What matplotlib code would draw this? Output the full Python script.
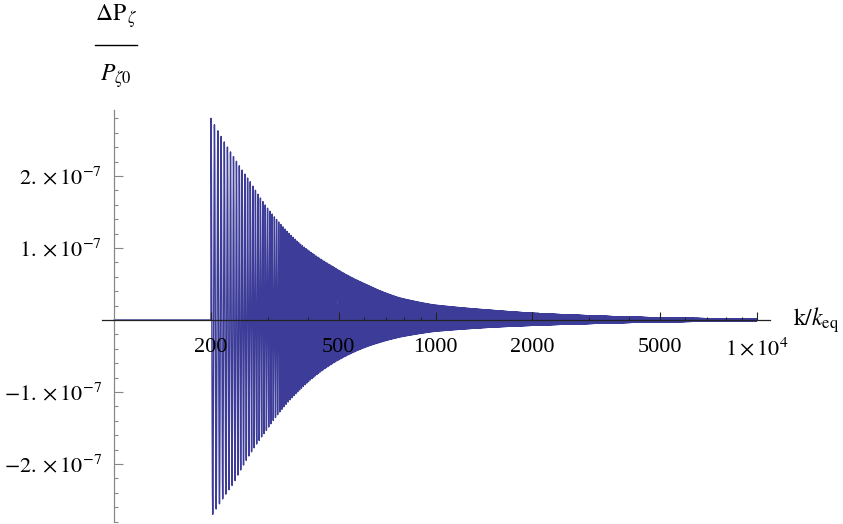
import numpy as np
import matplotlib
matplotlib.use("Agg")
import matplotlib.pyplot as plt
from matplotlib.ticker import FixedLocator, FixedFormatter
from matplotlib.lines import Line2D

plt.rcParams['agg.path.chunksize'] = 10000
plt.rcParams['mathtext.fontset'] = 'stix'
plt.rcParams['font.family'] = ['Liberation Serif', 'DejaVu Serif']

# ---- data ----
k_start = 200.0          # oscillation onset (k/k_eq)
k_min, k_max = 100.0, 10000.0
period_k = 5.0           # oscillation period in k/k_eq
env_k = [200, 235, 265, 298, 378, 480, 612, 770, 986, 1500, 2000, 3000, 5000, 10000]
env_upper = [2.80, 2.27, 1.92, 1.57, 1.06, 0.74, 0.49, 0.31, 0.21, 0.135, 0.095, 0.06, 0.03, 0.012]
low_k = [200, 235, 298, 378, 480, 612, 770, 986, 1500, 2000, 3000, 5000, 10000]
env_lower = [2.74, 2.27, 1.53, 0.97, 0.60, 0.37, 0.24, 0.16, 0.10, 0.075, 0.05, 0.026, 0.011]
scale = 1e-7

x_major = [200, 500, 1000, 2000, 5000, 10000]
x_major_labels = ['200', '500', '1000', '2000', '5000', r'$1\times10^{4}$']
x_minor = [300, 400, 600, 700, 800, 900, 3000, 4000, 6000, 7000, 8000, 9000]
y_major = [-2e-7, -1e-7, 1e-7, 2e-7]
y_major_labels = [r'$-2.\times10^{-7}$', r'$-1.\times10^{-7}$', r'$1.\times10^{-7}$', r'$2.\times10^{-7}$']
y_minor = [v * 1e-8 for v in range(-28, 30, 2) if v % 10 != 0]

# ---- build curve (log-log envelope through the read points) ----
k = np.arange(k_min, k_max, 0.04)
lk = np.log10(k)
up = 10 ** np.interp(lk, np.log10(env_k), np.log10(env_upper)) * scale
lo = 10 ** np.interp(lk, np.log10(low_k), np.log10(env_lower)) * scale
c = np.cos(2 * np.pi * (k - k_start) / period_k)
y = np.where(c >= 0, up * c, lo * c)
y[k < k_start] = 0.0

W, H = 843, 524
fig = plt.figure(figsize=(W / 100, H / 100), dpi=100)
ax_left, ax_right, ax_top, ax_bot = 102, 770, 110, 522
ax = fig.add_axes([ax_left / W, 1 - ax_bot / H, (ax_right - ax_left) / W, (ax_bot - ax_top) / H])
ax.set_axisbelow(False)

col = '#3d3d99'
ax.plot(k, y, color=col, lw=1.0)

ax.set_xscale('log')
px_dec = 321.2
ax.set_xlim(10 ** (np.log10(200) + (ax_left - 211) / px_dec), 10 ** (np.log10(200) + (ax_right - 211) / px_dec))
ppy = 72 / 1e-7
ax.set_ylim(-(ax_bot - 320) / ppy, (320 - ax_top) / ppy)

for s in ['top', 'right']:
    ax.spines[s].set_visible(False)
ax.spines['left'].set_position(('data', k_min))
ax.spines['bottom'].set_position(('data', 0))
ax.spines['left'].set_color('#888888')
ax.spines['bottom'].set_color('#222222')
ax.spines['left'].set_linewidth(0.9)
ax.spines['bottom'].set_linewidth(0.9)

ax.xaxis.set_major_locator(FixedLocator(x_major))
ax.xaxis.set_major_formatter(FixedFormatter(x_major_labels))
ax.xaxis.set_minor_locator(FixedLocator(x_minor))
ax.xaxis.set_minor_formatter(FixedFormatter([''] * len(x_minor)))
ax.yaxis.set_major_locator(FixedLocator(y_major))
ax.yaxis.set_major_formatter(FixedFormatter(y_major_labels))
ax.yaxis.set_minor_locator(FixedLocator(y_minor))

ax.tick_params(axis='x', which='major', direction='in', length=5.5, width=0.8, color='#222222', pad=13, labelsize=16)
ax.tick_params(axis='x', which='minor', direction='in', length=2.5, width=0.8, color='#222222')
ax.tick_params(axis='y', which='major', direction='in', length=6.5, width=0.8, color='#888888', pad=9, labelsize=16)
ax.tick_params(axis='y', which='minor', direction='in', length=3.2, width=0.8, color='#888888')

# axis labels
fig.text(793 / W, 1 - 320 / H, r'$\mathrm{k}/k_{\mathrm{eq}}$', fontsize=17, ha='left', va='center')
fig.text(116 / W, 1 - 16 / H, r'$\Delta\mathrm{P}_{\,\zeta}$', fontsize=17, ha='center', va='center')
fig.add_artist(Line2D([95 / W, 137 / W], [1 - 45 / H, 1 - 45 / H], color='black', lw=1.0, transform=fig.transFigure))
fig.text(116 / W, 1 - 76 / H, r'$P_{\zeta 0}$', fontsize=17, ha='center', va='center')

fig.savefig('out.png', dpi=100)
